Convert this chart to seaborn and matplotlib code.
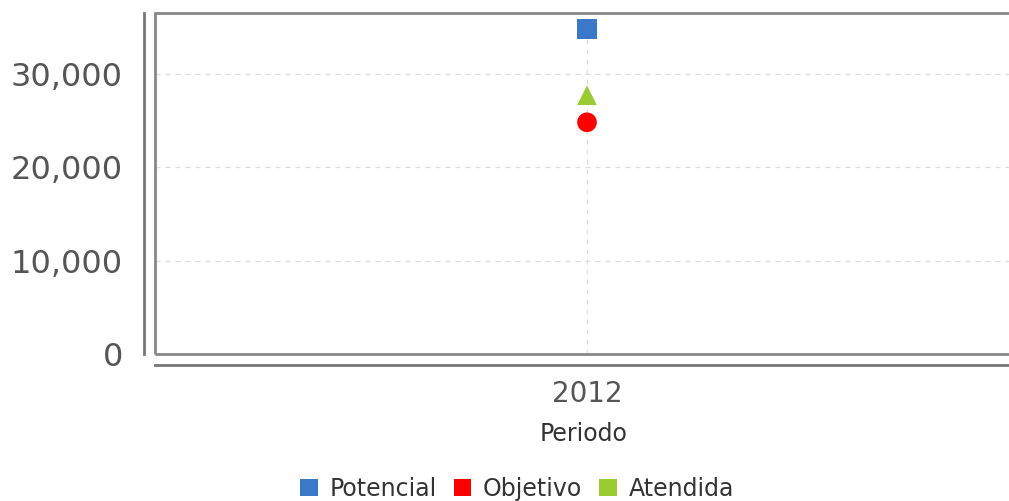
import matplotlib
matplotlib.use("Agg")
import matplotlib.pyplot as plt
import matplotlib.ticker as mticker
from matplotlib.patches import Rectangle, Patch
import seaborn as sns
import pandas as pd

periodos = ["2012"]
series = ["Potencial", "Objetivo", "Atendida"]
valores = [34800, 24800, 27700]
colores = ["#3b78c8", "#ff0000", "#99cc33"]
marcadores = ["s", "o", "^"]
yticks = [0, 10000, 20000, 30000]

df = pd.DataFrame({
    "Periodo": periodos * len(series),
    "Serie": series,
    "Valor": valores,
})

sns.set_theme(style="white")
plt.rcParams["font.family"] = ["DejaVu Sans"]

fig = plt.figure(figsize=(10.09, 5.01), dpi=100)
ax_w = (1012 - 155) / 1009
ax = fig.add_axes([155 / 1009, 1 - 354 / 501, ax_w, (354 - 13) / 501])

sns.scatterplot(
    data=df, x="Periodo", y="Valor", hue="Serie", style="Serie",
    palette=dict(zip(series, colores)), markers=dict(zip(series, marcadores)),
    s=200, edgecolor="none", ax=ax, legend=False, zorder=3,
)

frac = (587 - 155) / (1012 - 155)
ax.set_xlim(-frac, 1 - frac)
ax.set_ylim(0, 36500)
ax.set_yticks(yticks)
ax.yaxis.set_major_formatter(mticker.FuncFormatter(lambda v, p: f"{int(v):,}"))

ax.grid(True, color="#dddddd", linestyle=(0, (4, 4)), linewidth=0.9)
ax.set_axisbelow(True)
for gl, t in zip(ax.get_ygridlines(), ax.get_yticks()):
    if t == 0:
        gl.set_visible(False)

for side in ["top", "right"]:
    ax.spines[side].set_visible(False)
for side in ["left", "bottom"]:
    ax.spines[side].set_position(("outward", 8))
    ax.spines[side].set_color("#777777")
    ax.spines[side].set_linewidth(2)

box = Rectangle((0, 0), 1.0, 1.0, transform=ax.transAxes, fill=False,
                edgecolor="#888888", linewidth=2, clip_on=False, zorder=1)
ax.add_patch(box)

ax.tick_params(axis="both", which="both", direction="out", length=5, width=2,
               color="#777777", labelcolor="#555555")
ax.tick_params(axis="y", labelsize=23, pad=10)
ax.tick_params(axis="x", labelsize=20, pad=6)
ax.set_ylabel("")
ax.set_xlabel("Periodo", fontsize=17, color="#333333", labelpad=10)

handles = [Patch(facecolor=c, edgecolor="none", label=s) for s, c in zip(series, colores)]
fig.legend(handles=handles, loc="center", bbox_to_anchor=(517 / 1009, 1 - 489 / 501),
           ncol=3, frameon=False, fontsize=17, handlelength=0.75, handleheight=0.75,
           handletextpad=0.5, columnspacing=0.7, labelcolor="#333333")

fig.savefig("out.png", dpi=100, facecolor="white")
